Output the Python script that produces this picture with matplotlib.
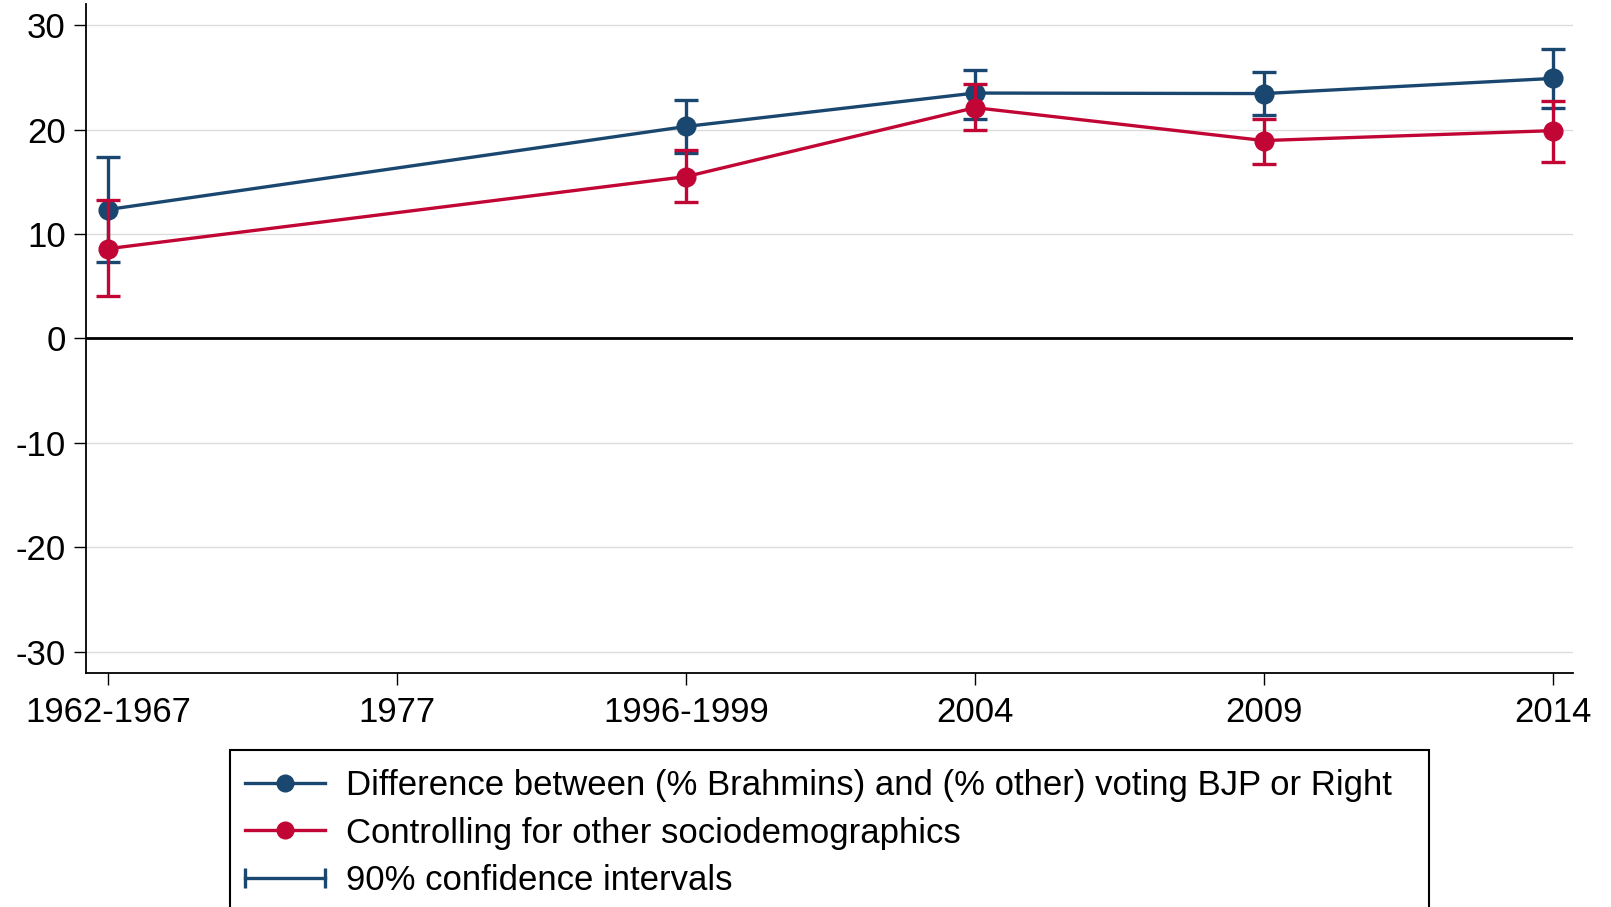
import matplotlib
matplotlib.use("Agg")
import matplotlib.pyplot as plt
from matplotlib.lines import Line2D
from matplotlib.patches import Rectangle
from matplotlib.legend_handler import HandlerLine2D
import numpy as np

plt.rcParams['font.family'] = ['Liberation Sans', 'DejaVu Sans']

categories = ["1962-1967", "1977", "1996-1999", "2004", "2009", "2014"]
# positions of categories with data (1977 has none)
data_idx = [0, 2, 3, 4, 5]

raw_diff = [12.35, 20.3, 23.5, 23.45, 24.9]
raw_diff_lo = [7.3, 17.8, 21.0, 21.35, 22.05]
raw_diff_hi = [17.4, 22.8, 25.7, 25.55, 27.7]

ctrl_diff = [8.6, 15.5, 22.1, 18.95, 19.9]
ctrl_diff_lo = [4.05, 13.1, 19.95, 16.75, 16.9]
ctrl_diff_hi = [13.25, 18.0, 24.4, 21.0, 22.7]

yticks = [-30, -20, -10, 0, 10, 20, 30]

labels = ["Difference between (% Brahmins) and (% other) voting BJP or Right",
          "Controlling for other sociodemographics",
          "90% confidence intervals"]

navy = "#1a476f"
red = "#c10534"

fig = plt.figure(figsize=(16.11, 9.07), dpi=100)
ax = fig.add_axes([0.0534, 0.2583, 0.9766 - 0.0534, 0.9953 - 0.2583])

x = np.array(data_idx)

def draw(vals, lo, hi, color, z):
    vals = np.array(vals); lo = np.array(lo); hi = np.array(hi)
    ax.errorbar(x, vals, yerr=[vals - lo, hi - vals], fmt='none', ecolor=color,
                elinewidth=2.4, capsize=8.5, capthick=2.4, zorder=z)
    ax.plot(x, vals, color=color, lw=2.4, marker='o', markersize=13.5, zorder=z + 1)

draw(raw_diff, raw_diff_lo, raw_diff_hi, navy, 3)
draw(ctrl_diff, ctrl_diff_lo, ctrl_diff_hi, red, 5)

ax.axhline(0, color='black', lw=2, zorder=2)
ax.set_xlim(-0.077, 5.071)
ax.set_ylim(-32, 32)
ax.set_yticks(yticks)
ax.set_yticklabels([str(v) for v in yticks])
ax.set_xticks(range(len(categories)))
ax.set_xticklabels(categories)
ax.yaxis.grid(True, color='#dcdcdc', lw=1)
ax.set_axisbelow(True)
for s in ['top', 'right']:
    ax.spines[s].set_visible(False)
for s in ['left', 'bottom']:
    ax.spines[s].set_linewidth(1.3)
ax.tick_params(axis='both', direction='out', length=8.5, width=1, labelsize=25, pad=6)
ax.tick_params(axis='x', pad=8)

# legend
h1 = Line2D([0], [0], color=navy, lw=2.4, marker='o', markersize=12)
h2 = Line2D([0], [0], color=red, lw=2.4, marker='o', markersize=12)
h3 = Line2D([0], [0], color=navy, lw=2.4, marker='|', markersize=14, markeredgewidth=2.4)
leg = fig.legend([h1, h2, h3], labels, loc='upper left',
                 bbox_to_anchor=(227.5 / 1611, 1 - 752 / 907),
                 frameon=False, fontsize=25, handlelength=2.3, handletextpad=0.6,
                 labelspacing=0.41, borderpad=0.0,
                 handler_map={h3: HandlerLine2D(numpoints=2, marker_pad=0)})
fig.add_artist(Rectangle((230 / 1611, -0.05), (1429 - 230) / 1611, 0.05 + (1 - 750 / 907),
                         transform=fig.transFigure, fill=False, ec='black', lw=1.5))

fig.savefig("out.png", dpi=100)
